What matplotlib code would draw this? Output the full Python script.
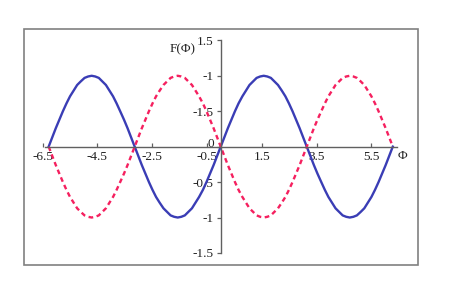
import matplotlib.pyplot as plt
from matplotlib.patches import Rectangle
from matplotlib.transforms import ScaledTranslation

plt.rcParams["font.family"] = ["Liberation Serif", "DejaVu Serif"]

# sample points (phi in radians, step ~ pi/24)
phi = [-6.28, -6.15, -6.02, -5.89, -5.76, -5.63, -5.50, -5.37, -5.24, -5.11,
       -4.97, -4.84, -4.71, -4.58, -4.45, -4.32, -4.19, -4.06, -3.93, -3.80,
       -3.67, -3.53, -3.40, -3.27, -3.14, -3.01, -2.88, -2.75, -2.62, -2.49,
       -2.36, -2.23, -2.09, -1.96, -1.83, -1.70, -1.57, -1.44, -1.31, -1.18,
       -1.05, -0.92, -0.79, -0.65, -0.52, -0.39, -0.26, -0.13, 0.00,
       0.13, 0.26, 0.39, 0.52, 0.65, 0.79, 0.92, 1.05, 1.18, 1.31,
       1.44, 1.57, 1.70, 1.83, 1.96, 2.09, 2.23, 2.36, 2.49, 2.62,
       2.75, 2.88, 3.01, 3.14, 3.27, 3.40, 3.53, 3.67, 3.80, 3.93,
       4.06, 4.19, 4.32, 4.45, 4.58, 4.71, 4.84, 4.97, 5.11, 5.24,
       5.37, 5.50, 5.63, 5.76, 5.89, 6.02, 6.15, 6.28]
blue_vals = [0.00, 0.13, 0.26, 0.38, 0.50, 0.61, 0.71, 0.79, 0.87, 0.92,
             0.97, 0.99, 1.00, 0.99, 0.97, 0.92, 0.87, 0.79, 0.71, 0.61,
             0.50, 0.38, 0.26, 0.13, 0.00, -0.13, -0.26, -0.38, -0.50, -0.61,
             -0.71, -0.79, -0.87, -0.92, -0.97, -0.99, -1.00, -0.99, -0.97, -0.92,
             -0.87, -0.79, -0.71, -0.61, -0.50, -0.38, -0.26, -0.13, 0.00,
             0.13, 0.26, 0.38, 0.50, 0.61, 0.71, 0.79, 0.87, 0.92, 0.97,
             0.99, 1.00, 0.99, 0.97, 0.92, 0.87, 0.79, 0.71, 0.61, 0.50,
             0.38, 0.26, 0.13, 0.00, -0.13, -0.26, -0.38, -0.50, -0.61, -0.71,
             -0.79, -0.87, -0.92, -0.97, -0.99, -1.00, -0.99, -0.97, -0.92, -0.87,
             -0.79, -0.71, -0.61, -0.50, -0.38, -0.26, -0.13, 0.00]
red_vals = [0.00, -0.13, -0.26, -0.38, -0.50, -0.61, -0.71, -0.79, -0.87, -0.92,
            -0.97, -0.99, -1.00, -0.99, -0.97, -0.92, -0.87, -0.79, -0.71, -0.61,
            -0.50, -0.38, -0.26, -0.13, 0.00, 0.13, 0.26, 0.38, 0.50, 0.61,
            0.71, 0.79, 0.87, 0.92, 0.97, 0.99, 1.00, 0.99, 0.97, 0.92,
            0.87, 0.79, 0.71, 0.61, 0.50, 0.38, 0.26, 0.13, 0.00,
            -0.13, -0.26, -0.38, -0.50, -0.61, -0.71, -0.79, -0.87, -0.92, -0.97,
            -0.99, -1.00, -0.99, -0.97, -0.92, -0.87, -0.79, -0.71, -0.61, -0.50,
            -0.38, -0.26, -0.13, 0.00, 0.13, 0.26, 0.38, 0.50, 0.61, 0.71,
            0.79, 0.87, 0.92, 0.97, 0.99, 1.00, 0.99, 0.97, 0.92, 0.87,
            0.79, 0.71, 0.61, 0.50, 0.38, 0.26, 0.13, 0.00]

xticks = [-6.5, -4.5, -2.5, -0.5, 1.5, 3.5, 5.5]
yticks = [1.5, 1.0, 0.5, 0.0, -0.5, -1.0, -1.5]
ytick_labels = ["1.5", "-1", "-1.5", "0", "-0.5", "-1", "-1.5"]

fig = plt.figure(figsize=(4.5, 2.93), dpi=100)
ax = fig.add_axes([24 / 450, 28 / 293, 394 / 450, 236 / 293])
ax.set_xlim(-7.18, 7.20)
ax.set_ylim(-1.67, 1.66)

ax.add_patch(Rectangle((0, 0), 1, 1, transform=ax.transAxes, fill=False,
                       edgecolor="#808080", lw=1.2, clip_on=False))

ax.plot(phi, blue_vals, color="#3a3db5", lw=1.7)
ax.plot(phi, red_vals, color="#f5205f", lw=1.7, ls=(0, (2, 1.5)))

for s in ["top", "right"]:
    ax.spines[s].set_visible(False)
ax.spines["left"].set_position(("data", 0))
ax.spines["bottom"].set_position(("data", 0))
ax.spines["left"].set_bounds(-1.5, 1.5)
ax.spines["bottom"].set_bounds(-6.4, 6.45)
for s in ["left", "bottom"]:
    ax.spines[s].set_color("#606060")
    ax.spines[s].set_linewidth(1.0)

ax.set_xticks(xticks)
ax.set_xticklabels([str(t) for t in xticks])
ax.set_yticks(yticks)
ax.set_yticklabels(ytick_labels)
ax.tick_params(axis="x", direction="in", length=3, width=0.9, color="#606060",
               pad=3, labelsize=9.5, labelcolor="#222222")
ax.tick_params(axis="y", direction="out", length=3, width=0.9, color="#606060",
               pad=2, labelsize=9.5, labelcolor="#222222")

# nudge the "0" label up a little so it clears the -0.5 below it
zero_lbl = ax.get_yticklabels()[yticks.index(0.0)]
zero_lbl.set_transform(zero_lbl.get_transform()
                       + ScaledTranslation(0, 3 / 72, fig.dpi_scale_trans))

ax.text(-1.4, 1.38, "F(\u03a6)", fontsize=9.5, ha="center", va="center",
        color="#222222")
ax.text(6.65, -0.13, "\u03a6", fontsize=9.5, ha="center", va="center",
        color="#222222")

fig.savefig("out.png", dpi=100)
